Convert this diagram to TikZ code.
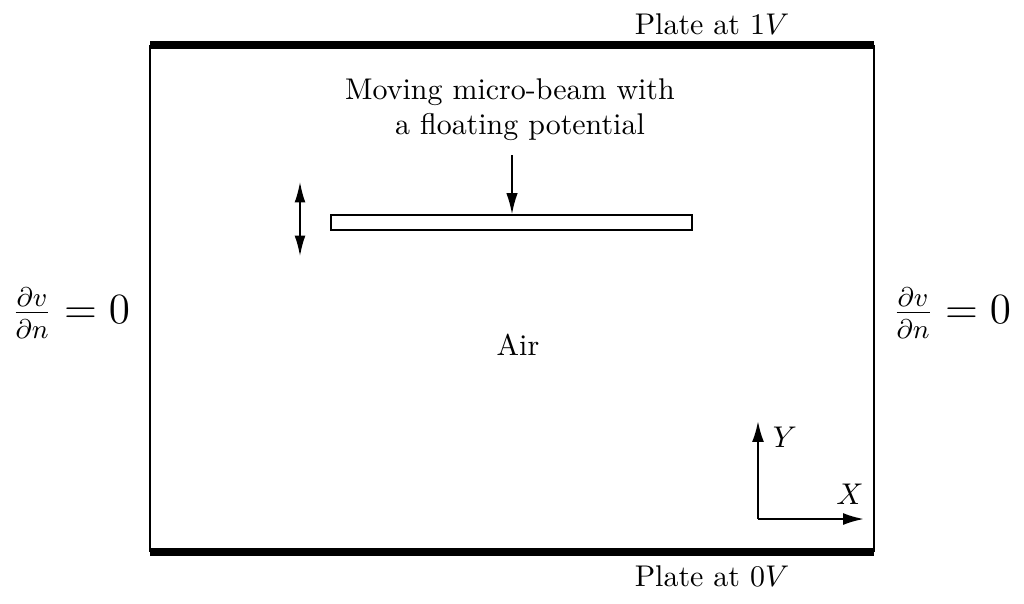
\documentclass[tikz,border=0pt]{standalone}
\usetikzlibrary{arrows.meta}
\begin{document}
\begin{tikzpicture}[x=0.3339pt,y=-0.3339pt,
  thinline/.style={line width=0.5pt},
  plate/.style={line width=2.7pt},
  tip/.style={},
  arr/.style={line width=0.5pt,-{Latex[length=7pt,width=3.8pt]}},
  darr/.style={line width=0.5pt,{Latex[length=6.8pt,width=3.6pt]}-{Latex[length=6.8pt,width=3.6pt]}},
  axis/.style={line width=0.75pt,-{Latex[length=7pt,width=4pt]}},
  lbl/.style={inner sep=0pt}]
\useasboundingbox (0,0) rectangle (1024,603);
% domain corners
\coordinate (tl) at (150,45);
\coordinate (tr) at (874,45);
\coordinate (bl) at (150,552);
\coordinate (br) at (874,552);
\draw[thinline] (tl) -- (bl);
\draw[thinline] (tr) -- (br);
\draw[plate] (tl) -- (tr);
\draw[plate] (bl) -- (br);
\node[lbl] (p1) at (712,24) {Plate at $1V$};
\node[lbl] (p0) at (712,576) {Plate at $0V$};
% beam
\node[draw,line width=0.6pt,minimum width=361*0.3339pt,minimum height=15*0.3339pt,inner sep=0pt] (beam) at (511.5,222.5) {};
\node[lbl] (t1) at (510,92) {Moving micro-beam with};
\node[lbl] (t2) at (520,127) {a floating potential};
\coordinate (as) at (512,155);
\draw[arr] (as) -- (beam.north -| as);
\coordinate (d1) at (300,182);
\coordinate (d2) at (300,256);
\draw[darr] (d1) -- (d2);
\node[lbl] (air) at (518,345) {Air};
% boundary conditions
\node[lbl] (bcl) at (71,313) {\fontsize{13.5}{16}\selectfont $\frac{\partial v}{\partial n} = 0$};
\node[lbl] (bcr) at (952,313) {\fontsize{13.5}{16}\selectfont $\frac{\partial v}{\partial n} = 0$};
% axes
\coordinate (o) at (758,519);
\coordinate (yend) at (758,421);
\coordinate (xend) at (864,519);
\draw[axis] (o) -- (yend);
\draw[axis] (o) -- (xend);
\node[lbl] (ylab) at (785,437) {$Y$};
\node[lbl] (xlab) at (850,494) {$X$};
\end{tikzpicture}
\end{document}
